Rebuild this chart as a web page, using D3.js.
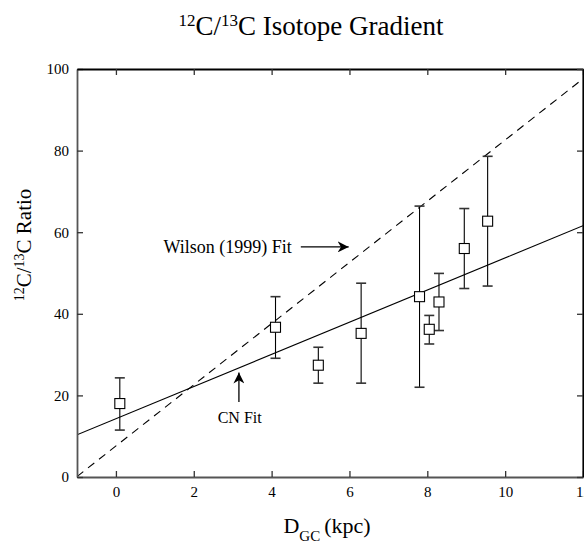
<!DOCTYPE html>
<html>
<head>
<meta charset="utf-8">
<script src="https://cdn.jsdelivr.net/npm/d3@7"></script>
<style>
  body { margin: 0; background: #fff; }
</style>
</head>
<body>
<div id="chart"></div>
<script>
// Data
var dgc      = [0.1, 4.1, 5.2, 6.3, 7.8, 8.05, 8.3, 8.95, 9.55];
var ratio    = [18.0, 36.7, 27.4, 35.2, 44.2, 36.2, 42.9, 56.0, 62.7];
var errLow   = [11.5, 29.1, 23.0, 23.0, 22.0, 32.6, 35.9, 46.2, 46.8];
var errHigh  = [24.3, 44.2, 31.8, 47.5, 66.4, 39.6, 49.9, 65.8, 78.6];
var xTicks   = [0, 2, 4, 6, 8, 10, 12];
var yTicks   = [0, 20, 40, 60, 80, 100];
// fit lines: ratio = slope * DGC + intercept
var wilsonFit = { slope: 7.5, intercept: 7.6 };
var cnFit     = { slope: 3.94, intercept: 14.3 };

var SERIF = "'Liberation Serif', 'Times New Roman', 'DejaVu Serif', serif";
var W = 584, H = 546;
var margin = { top: 69, right: 1, bottom: 69, left: 77 };

var svg = d3.select("#chart").append("svg")
    .attr("width", W)
    .attr("height", H)
    .attr("font-family", SERIF);

var x = d3.scaleLinear().domain([-1, 12]).range([margin.left, W - margin.right]);
var y = d3.scaleLinear().domain([0, 100]).range([H - margin.bottom, margin.top]);

// Title
var title = svg.append("text")
    .attr("x", 311).attr("y", 35)
    .attr("text-anchor", "middle")
    .style("font-family", SERIF)
    .style("font-size", "27px");
title.append("tspan").attr("baseline-shift", "super").style("font-size", "17px").text("12");
title.append("tspan").text("C/");
title.append("tspan").attr("baseline-shift", "super").style("font-size", "17px").text("13");
title.append("tspan").text("C Isotope Gradient");

// Fit lines, clipped to plot area
svg.append("clipPath").attr("id", "plotclip")
    .append("rect")
    .attr("x", x(-1)).attr("y", y(100))
    .attr("width", x(12) - x(-1)).attr("height", y(0) - y(100));

var plot = svg.append("g").attr("clip-path", "url(#plotclip)");

var line = d3.line().x(d => x(d[0])).y(d => y(d[1]));
function fitPts(f) {
    return [-1, 12].map(v => [v, f.slope * v + f.intercept]);
}
plot.append("path")
    .attr("d", line(fitPts(wilsonFit)))
    .attr("fill", "none")
    .attr("stroke", "#000")
    .attr("stroke-width", 1.1)
    .attr("stroke-dasharray", "8,6");
plot.append("path")
    .attr("d", line(fitPts(cnFit)))
    .attr("fill", "none")
    .attr("stroke", "#000")
    .attr("stroke-width", 1.1);

// Error bars
var pts = dgc.map((d, i) => ({ x: d, y: ratio[i], lo: errLow[i], hi: errHigh[i] }));
var eb = svg.append("g").attr("stroke", "#000").attr("stroke-width", 1.1);
eb.selectAll(".stem").data(pts).enter().append("line")
    .attr("x1", d => x(d.x)).attr("x2", d => x(d.x))
    .attr("y1", d => y(d.lo)).attr("y2", d => y(d.hi));
eb.selectAll(".capHi").data(pts).enter().append("line")
    .attr("x1", d => x(d.x) - 5).attr("x2", d => x(d.x) + 5)
    .attr("y1", d => y(d.hi)).attr("y2", d => y(d.hi))
    .attr("stroke-width", 1.6).attr("stroke", "#333");
eb.selectAll(".capLo").data(pts).enter().append("line")
    .attr("x1", d => x(d.x) - 5).attr("x2", d => x(d.x) + 5)
    .attr("y1", d => y(d.lo)).attr("y2", d => y(d.lo))
    .attr("stroke-width", 1.6).attr("stroke", "#333");

// Square markers
svg.selectAll(".pt").data(pts).enter().append("rect")
    .attr("x", d => x(d.x) - 5).attr("y", d => y(d.y) - 5)
    .attr("width", 10).attr("height", 10)
    .attr("fill", "#fff")
    .attr("stroke", "#000")
    .attr("stroke-width", 1.1);

// Axes
function styleTicks(g) {
    g.selectAll(".tick line").attr("stroke", "#333").attr("stroke-width", 1.3);
    g.selectAll("text")
        .style("font-family", SERIF)
        .style("font-size", "15px")
        .attr("fill", "#000");
}

svg.append("g")
    .attr("transform", "translate(0," + y(0) + ")")
    .call(d3.axisBottom(x).tickValues(xTicks).tickSizeInner(-6).tickSizeOuter(0).tickPadding(9))
    .attr("font-family", SERIF)
    .call(g => g.select(".domain").attr("stroke", "#555").attr("stroke-width", 1.8))
    .call(styleTicks);

svg.append("g")
    .attr("transform", "translate(" + x(-1) + ",0)")
    .call(d3.axisLeft(y).tickValues(yTicks).tickSizeInner(-6).tickSizeOuter(0).tickPadding(8))
    .attr("font-family", SERIF)
    .call(g => g.select(".domain").attr("stroke", "#555").attr("stroke-width", 1.8))
    .call(styleTicks);

svg.append("g")
    .attr("transform", "translate(0," + y(100) + ")")
    .call(d3.axisTop(x).tickValues(xTicks).tickSizeInner(-6).tickSizeOuter(0).tickFormat(""))
    .call(g => g.select(".domain").attr("stroke", "#000").attr("stroke-width", 1.8))
    .call(styleTicks);

svg.append("g")
    .attr("transform", "translate(" + x(12) + ",0)")
    .call(d3.axisRight(y).tickValues(yTicks).tickSizeInner(-6).tickSizeOuter(0).tickFormat(""))
    .call(g => g.select(".domain").attr("stroke", "#000").attr("stroke-width", 2.2))
    .call(styleTicks);

// Axis labels
var yl = svg.append("text")
    .attr("transform", "translate(31," + 245 + ") rotate(-90)")
    .attr("text-anchor", "middle")
    .style("font-family", SERIF)
    .style("font-size", "21px");
yl.append("tspan").attr("baseline-shift", "super").style("font-size", "14px").text("12");
yl.append("tspan").text("C/");
yl.append("tspan").attr("baseline-shift", "super").style("font-size", "14px").text("13");
yl.append("tspan").text("C Ratio");

var xl = svg.append("text")
    .attr("x", 327).attr("y", 533)
    .attr("text-anchor", "middle")
    .style("font-family", SERIF)
    .style("font-size", "22px");
xl.append("tspan").text("D");
xl.append("tspan").attr("baseline-shift", "sub").style("font-size", "15px").text("GC");
xl.append("tspan").attr("dx", 4).text("(kpc)");

// Annotations
var defs = svg.append("defs");
defs.append("marker")
    .attr("id", "arrow")
    .attr("viewBox", "0 0 10 10")
    .attr("refX", 10).attr("refY", 5)
    .attr("markerWidth", 11).attr("markerHeight", 11)
    .attr("markerUnits", "userSpaceOnUse")
    .attr("orient", "auto")
    .append("path")
    .attr("d", "M0,0 L10,5 L0,10 L3,5 Z")
    .attr("fill", "#000");

svg.append("text")
    .attr("x", x(4.52)).attr("y", y(56.4) + 6)
    .attr("text-anchor", "end")
    .style("font-family", SERIF)
    .style("font-size", "18px")
    .text("Wilson (1999) Fit");
svg.append("line")
    .attr("x1", x(4.75)).attr("y1", y(56.4))
    .attr("x2", x(5.98)).attr("y2", y(56.4))
    .attr("stroke", "#000").attr("stroke-width", 1.3)
    .attr("marker-end", "url(#arrow)");

svg.append("text")
    .attr("x", x(3.18)).attr("y", y(13.2))
    .attr("text-anchor", "middle")
    .style("font-family", SERIF)
    .style("font-size", "16px")
    .text("CN Fit");
svg.append("line")
    .attr("x1", x(3.16)).attr("y1", y(18.4))
    .attr("x2", x(3.16)).attr("y2", y(25.6))
    .attr("stroke", "#000").attr("stroke-width", 1.3)
    .attr("marker-end", "url(#arrow)");
</script>
</body>
</html>
